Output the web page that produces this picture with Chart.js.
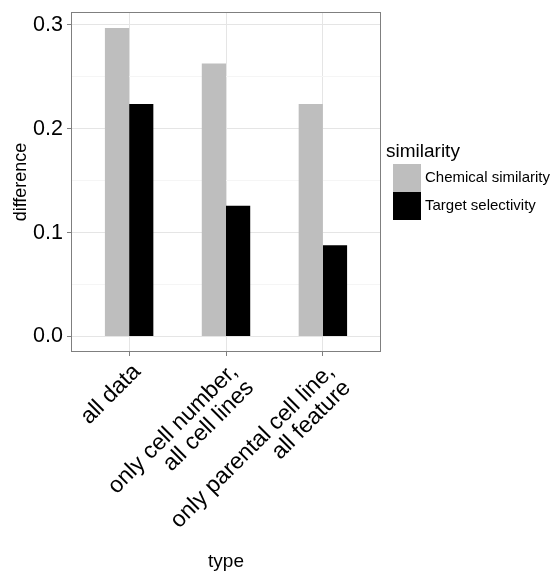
<!DOCTYPE html>
<html>
<head>
<meta charset="utf-8">
<script src="https://cdn.jsdelivr.net/npm/chart.js@4/dist/chart.umd.min.js"></script>
<style>
    html, body { margin: 0; padding: 0; background: #ffffff; }
    canvas { display: block; }
</style>
</head>
<body>
<canvas id="diagram" width="558" height="574"></canvas>
<script>
        // chart data
        const categories = [['all data'], ['only cell number,', 'all cell lines'], ['only parental cell line,', 'all feature']];
        const seriesNames = ['Chemical similarity', 'Target selectivity'];
        const chemicalValues = [0.297, 0.263, 0.224];
        const targetValues = [0.224, 0.126, 0.088];
        const majorTicks = [0.0, 0.1, 0.2, 0.3];
        const minorTicks = [0.05, 0.15, 0.25];
        const seriesColors = ['#bebebe', '#000000'];

        const fontFamily = "'Liberation Sans', Arial, sans-serif";
        Chart.defaults.font.family = fontFamily;
        Chart.defaults.color = '#000000';

        const isMajor = v => majorTicks.some(t => Math.abs(t - v) < 1e-9);

        // panel border + ggplot style legend
        const panelAndLegend = {
            id: 'panelAndLegend',
            afterDatasetsDraw(chart) {
                const { ctx, chartArea: a } = chart;
                ctx.save();
                ctx.strokeStyle = '#7f7f7f';
                ctx.lineWidth = 1;
                ctx.strokeRect(Math.round(a.left) + 0.5, Math.round(a.top) + 0.5,
                    Math.round(a.right - a.left) - 1, Math.round(a.bottom - a.top) - 1);
                ctx.restore();
            },
            afterDraw(chart) {
                const ctx = chart.ctx;
                ctx.save();
                ctx.fillStyle = '#000000';
                ctx.textBaseline = 'alphabetic';
                ctx.textAlign = 'left';
                ctx.font = '19px ' + fontFamily;
                ctx.fillText('similarity', 386, 157);
                chart.data.datasets.forEach((ds, i) => {
                    const top = 164 + i * 28;
                    ctx.fillStyle = ds.backgroundColor;
                    ctx.fillRect(393, top, 28, 28);
                    ctx.fillStyle = '#000000';
                    ctx.font = '15px ' + fontFamily;
                    ctx.textBaseline = 'middle';
                    ctx.fillText(ds.label, 425, top + 14);
                });
                ctx.restore();
            }
        };

        const ctx = document.getElementById('diagram').getContext('2d');
        const diagram = new Chart(ctx, {
            type: 'bar',
            data: {
                datasets: [
                    {
                        label: seriesNames[0],
                        data: categories.map((c, i) => ({ x: i + 1, y: chemicalValues[i] })),
                        backgroundColor: seriesColors[0]
                    },
                    {
                        label: seriesNames[1],
                        data: categories.map((c, i) => ({ x: i + 1, y: targetValues[i] })),
                        backgroundColor: seriesColors[1]
                    }
                ]
            },
            options: {
                responsive: false,
                animation: false,
                devicePixelRatio: 1,
                layout: {
                    padding: { left: 0, top: 12, right: 177, bottom: 0 }
                },
                datasets: {
                    bar: { categoryPercentage: 0.5, barPercentage: 1.0 }
                },
                plugins: {
                    legend: { display: false },
                    tooltip: { enabled: false }
                },
                scales: {
                    x: {
                        type: 'linear',
                        min: 0.4,
                        max: 3.6,
                        offset: false,
                        afterBuildTicks: s => { s.ticks = categories.map((c, i) => ({ value: i + 1 })); },
                        afterFit: s => { s.height = 222; s.paddingLeft = 0; s.paddingRight = 0; },
                        border: { display: false },
                        grid: { offset: false, color: '#e5e5e5', tickColor: '#7f7f7f', tickLength: 4 },
                        ticks: {
                            autoSkip: false,
                            minRotation: 45,
                            maxRotation: 45,
                            padding: 4,
                            labelOffset: 8,
                            font: { size: 23, lineHeight: 1.0 },
                            color: '#000000',
                            callback: v => categories[Math.round(v) - 1]
                        },
                        title: { display: true, text: 'type', font: { size: 19 }, color: '#000000', padding: { top: 0, bottom: 1 } }
                    },
                    y: {
                        min: -0.0149,
                        max: 0.3125,
                        afterBuildTicks: s => {
                            s.ticks = [...majorTicks, ...minorTicks].sort((a, b) => a - b).map(v => ({ value: v }));
                        },
                        afterFit: s => { s.width = 71; s.paddingTop = 0; s.paddingBottom = 0; },
                        border: { display: false },
                        grid: {
                            color: c => isMajor(c.tick.value) ? '#e5e5e5' : '#f5f5f5',
                            tickColor: c => isMajor(c.tick.value) ? '#7f7f7f' : 'rgba(0,0,0,0)',
                            tickLength: 4
                        },
                        ticks: {
                            autoSkip: false,
                            padding: 4,
                            font: { size: 21.5 },
                            color: '#000000',
                            callback: v => isMajor(v) ? v.toFixed(1) : ''
                        },
                        title: { display: true, text: 'difference', font: { size: 18 }, color: '#000000', padding: { top: 10, bottom: 0 } }
                    }
                }
            },
            plugins: [panelAndLegend]
        });
</script>
</body>
</html>
